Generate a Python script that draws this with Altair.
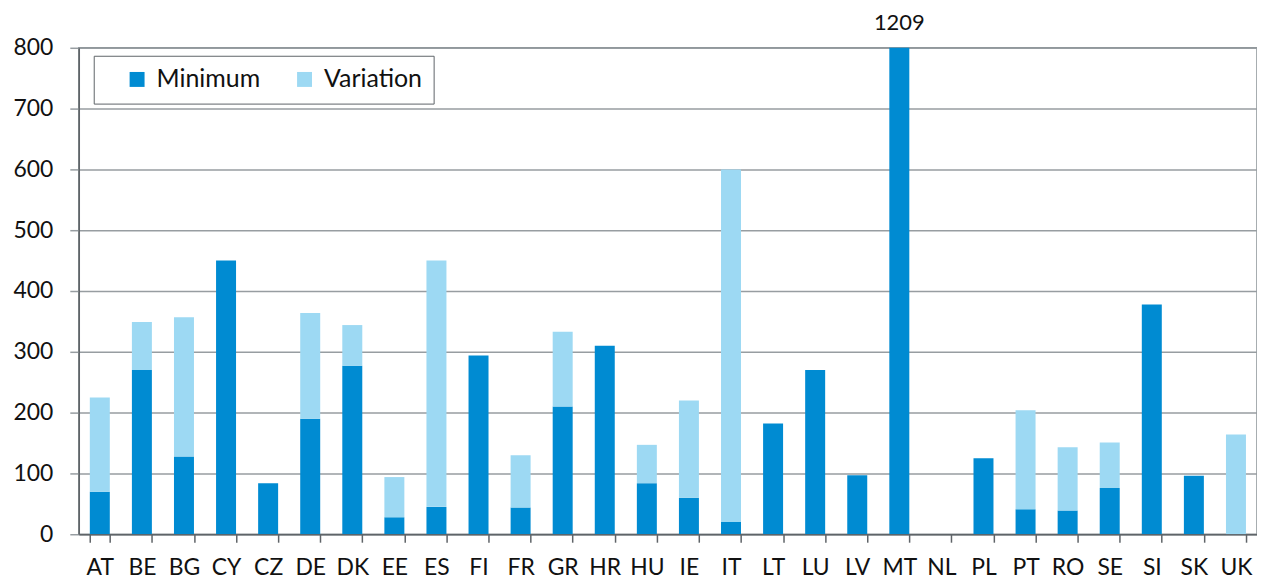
import altair as alt
import pandas as pd

countries = ["AT","BE","BG","CY","CZ","DE","DK","EE","ES","FI","FR","GR","HR","HU","IE",
             "IT","LT","LU","LV","MT","NL","PL","PT","RO","SE","SI","SK","UK"]
minimum = [70,270,128,450,84,190,277,28,45,294,44,210,310,84,60,
           20,182,270,97,1209,0,125,41,39,76,378,96,0]
total = [225,349,357,450,84,364,344,94,450,294,130,333,310,147,220,
         600,182,270,97,1209,0,125,204,143,151,378,96,164]
variation = [t - m for t, m in zip(total, minimum)]

rows = []
for c, m, v in zip(countries, minimum, variation):
    rows.append({"country": c, "series": "Minimum", "value": m, "ord": 0})
    rows.append({"country": c, "series": "Variation", "value": v, "ord": 1})
df = pd.DataFrame(rows)

labels = pd.DataFrame({"country": ["MT"], "value": [800], "text": ["1209"]})

FONT = "Lato"
AX = "#5f6468"
x = alt.X("country:N", sort=countries, title=None,
          scale=alt.Scale(paddingInner=0.525, paddingOuter=0.2625),
          axis=alt.Axis(labelAngle=0, tickBand="extent", tickSize=8, labelPadding=14,
                        domainColor=AX, tickColor=AX, domainWidth=1.5, tickWidth=1.5,
                        labelFontSize=23, labelColor="#111", labelFont=FONT, grid=False))

bars = alt.Chart(df).mark_bar(clip=True).encode(
    x=x,
    y=alt.Y("value:Q", stack="zero", title=None,
            scale=alt.Scale(domain=[0, 800], nice=False),
            axis=alt.Axis(values=list(range(0, 801, 100)), tickSize=9, labelPadding=17,
                          labelFontSize=23, labelColor="#111", labelFont=FONT,
                          domainColor=AX, tickColor="#979da1", domainWidth=1.5, tickWidth=1.5,
                          gridColor="#979da1", gridWidth=1.5)),
    color=alt.Color("series:N",
                    scale=alt.Scale(domain=["Minimum", "Variation"], range=["#008bd2", "#9dd9f3"]),
                    legend=alt.Legend(title=None, orient="none", legendX=15, legendY=8,
                                      direction="horizontal", symbolType="square", symbolSize=225,
                                      symbolStrokeWidth=0, symbolOffset=20, labelOffset=7,
                                      labelFontSize=25, labelFont=FONT, labelColor="#111",
                                      columnPadding=11, padding=11,
                                      strokeColor=AX, fillColor="white")),
    order=alt.Order("ord:Q"),
)

txt = alt.Chart(labels).mark_text(dy=-25, fontSize=22, font=FONT, color="#111").encode(
    x=alt.X("country:N", sort=countries),
    y=alt.Y("value:Q"),
    text="text:N",
)

chart = alt.layer(bars, txt).properties(
    width=1182, height=488, padding={"left": 4, "top": 3, "right": 0, "bottom": 0}
).configure_view(stroke="#8a9296", strokeWidth=1.5)

chart.save("out.html", embed_options={"renderer": "svg", "actions": False})
